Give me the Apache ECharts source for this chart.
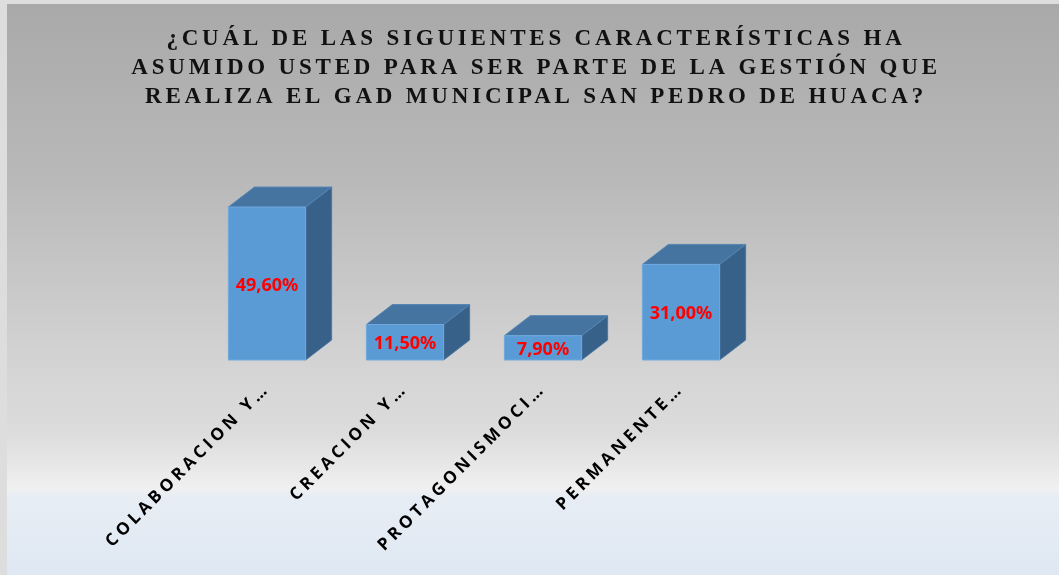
<!DOCTYPE html>
<html>
<head>
<meta charset="utf-8">
<script src="https://cdn.jsdelivr.net/npm/echarts@6/dist/echarts.min.js"></script>
<style>
  html, body { margin: 0; padding: 0; background: #dddddd; }
  #chart { width: 1059px; height: 575px; }
</style>
</head>
<body>
<div id="chart"></div>
<script>
const titleText = '¿CUÁL DE LAS SIGUIENTES CARACTERÍSTICAS HA\nASUMIDO USTED PARA SER PARTE DE LA GESTIÓN QUE\nREALIZA EL GAD MUNICIPAL SAN PEDRO DE HUACA?';
const categories = ['COLABORACION Y…', 'CREACION Y…', 'PROTAGONISMOCI…', 'PERMANENTE…'];
const percentages = [49.6, 11.5, 7.9, 31.0];

// the Excel original spaces its letters wide; zrender has no letterSpacing, so set it on the canvas per font
const baseFillText = CanvasRenderingContext2D.prototype.fillText;
CanvasRenderingContext2D.prototype.fillText = function (text, x, y, maxWidth) {
    const f = this.font;
    if ('letterSpacing' in this) {
        this.letterSpacing = f.indexOf('Liberation Serif') >= 0 ? '3.8px'
            : f.indexOf('Open Sans') >= 0 ? '3.8px' : '0px';
    }
    return maxWidth === undefined
        ? baseFillText.call(this, text, x, y)
        : baseFillText.call(this, text, x, y, maxWidth);
};

const fmtPct = v => v.toFixed(2).replace('.', ',') + '%';

const chart = echarts.init(document.getElementById('chart'));

const option = {
    animation: false,
    graphic: [
        {
            type: 'rect',
            silent: true,
            z: -1,
            shape: { x: 7, y: 4, width: 1052, height: 571 },
            style: {
                fill: new echarts.graphic.LinearGradient(0, 0, 0, 1, [
                    { offset: 0, color: '#a9a9a9' },
                    { offset: 0.31, color: '#b9b9b9' },
                    { offset: 0.623, color: '#d3d3d3' },
                    { offset: 0.75, color: '#dcdcdc' },
                    { offset: 0.81, color: '#e8e8e8' },
                    { offset: 0.848, color: '#f0f0f0' },
                    { offset: 0.862, color: '#e7edf4' },
                    { offset: 1, color: '#dfe8f3' },
                ]),
            },
        },
        {
            // title as a graphic text so it can sit a few px right of page centre like the original
            type: 'text',
            silent: true,
            x: 536,
            y: 25,
            style: {
                text: titleText,
                align: 'center',
                verticalAlign: 'top',
                fill: '#111111',
                font: 'bold 23px "Liberation Serif", serif',
                lineHeight: 29,
            },
        },
    ],
    grid: { left: 198, right: 309, top: 175, bottom: 215 },
    xAxis: {
        type: 'category',
        data: categories,
        axisLine: { show: false },
        axisTick: { show: false },
        axisLabel: {
            interval: 0,
            rotate: 45,
            margin: 26,
            color: '#000000',
            fontFamily: '"Open Sans", sans-serif',
            fontWeight: 'bold',
            fontSize: 17,
        },
    },
    yAxis: {
        type: 'value',
        min: 0,
        max: 60,
        show: false,
        splitLine: { show: false },
    },
    series: [{
        type: 'custom',
        data: percentages.map((v, i) => [i, v]),
        encode: { x: 0, y: 1 },
        renderItem: (params, api) => {
            const idx = api.value(0);
            const val = api.value(1);
            const base = api.coord([idx, 0]);
            const top = api.coord([idx, val]);
            const w = api.size([1, 0])[0] * 0.56;
            const x0 = base[0] - w / 2;
            const x1 = base[0] + w / 2;
            const y0 = top[1];
            const y1 = base[1];
            const dx = 26, dy = 20; // 3D depth
            return {
                type: 'group',
                children: [
                    {
                        type: 'polygon',
                        shape: { points: [[x1, y0], [x1 + dx, y0 - dy], [x1 + dx, y1 - dy], [x1, y1]] },
                        style: { fill: '#386189', stroke: '#4a77a3', lineWidth: 1 },
                    },
                    {
                        type: 'polygon',
                        shape: { points: [[x0, y0], [x0 + dx, y0 - dy], [x1 + dx, y0 - dy], [x1, y0]] },
                        style: { fill: '#4574a1', stroke: '#5585b3', lineWidth: 1 },
                    },
                    {
                        type: 'rect',
                        shape: { x: x0, y: y0, width: w, height: y1 - y0 },
                        style: { fill: '#5b9bd5', stroke: '#6fa9de', lineWidth: 1 },
                    },
                    {
                        type: 'text',
                        x: base[0],
                        y: (y0 + y1) / 2 + 2,
                        style: {
                            text: fmtPct(val),
                            fill: '#ff0000',
                            font: 'bold 18px "Noto Sans"',
                            align: 'center',
                            verticalAlign: 'middle',
                        },
                    },
                ],
            };
        },
    }],
};

chart.setOption(option);
</script>
</body>
</html>
